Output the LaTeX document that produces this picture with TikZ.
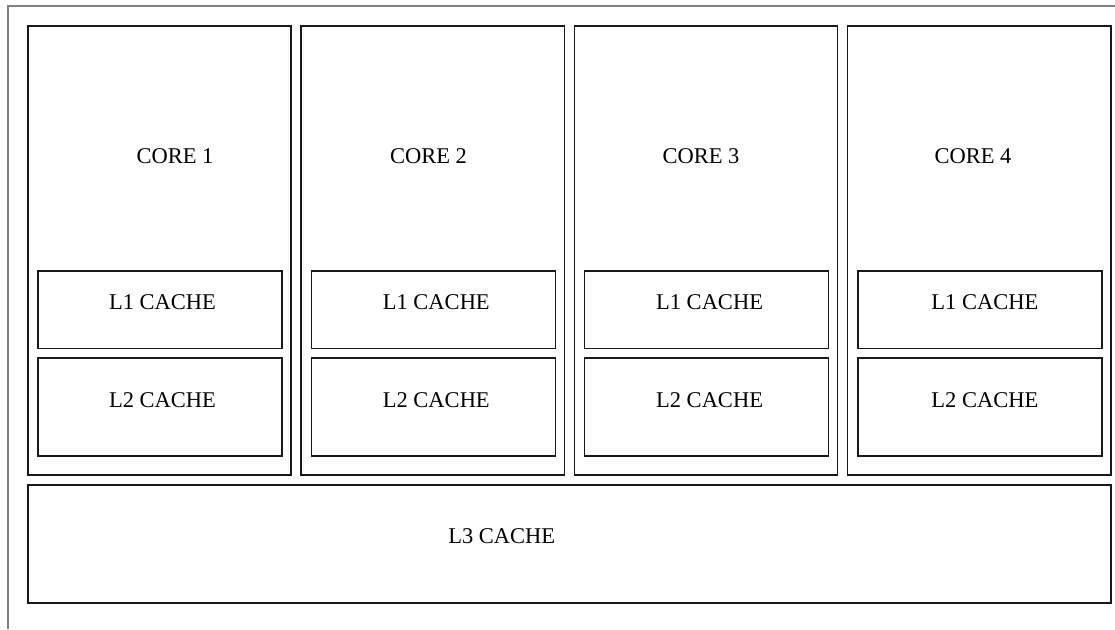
\documentclass[tikz,border=0pt]{standalone}
\usepackage{fontspec}
\setmainfont{Liberation Serif}
\begin{document}
\begin{tikzpicture}[x=1pt,y=-1pt,
  unit/.style={draw=black!90,line width=1.5pt,rectangle,inner sep=0pt,anchor=north west},
  lbl/.style={font=\fontsize{22.5}{27}\selectfont,inner sep=0pt,text=black}]
  % canvas
  \fill[white] (0,0) rectangle (1115,629);
  \useasboundingbox (0,0) rectangle (1115,629);
  % chip frame (top and left edges)
  \coordinate (frameTL) at (8,6);
  \coordinate (frameTR) at (1115,6);
  \coordinate (frameBL) at (8,629);
  \draw[black!50,line width=1.5pt] (frameTR) -- (frameTL) -- (frameBL);
  % cores with their private caches
  \foreach \i/\tx/\dx in {1/175/2.4,2/428.5/3,3/701/3,4/973/5} {
    \pgfmathsetmacro{\cx}{27+(\i-1)*273.25}
    \node[unit,minimum width=263.25pt,minimum height=449pt] (core\i) at (\cx,25) {};
    \node[unit,minimum width=244pt,minimum height=77.7pt] (lone\i) at (\cx+10.3,270) {};
    \node[unit,minimum width=244pt,minimum height=97.7pt] (ltwo\i) at (\cx+10.3,357.3) {};
    \node[lbl] (corelabel\i) at (\tx,156) {CORE \i};
    \node[lbl] (lonelabel\i) at ([xshift=\dx pt,yshift=7pt]lone\i.center) {L1 CACHE};
    \node[lbl] (ltwolabel\i) at ([xshift=\dx pt,yshift=7pt]ltwo\i.center) {L2 CACHE};
  }
  % shared last-level cache
  \node[unit,minimum width=1083pt,minimum height=118pt] (lthree) at (27,484) {};
  \node[lbl] (lthreelabel) at (501.7,536) {L3 CACHE};
\end{tikzpicture}
\end{document}
